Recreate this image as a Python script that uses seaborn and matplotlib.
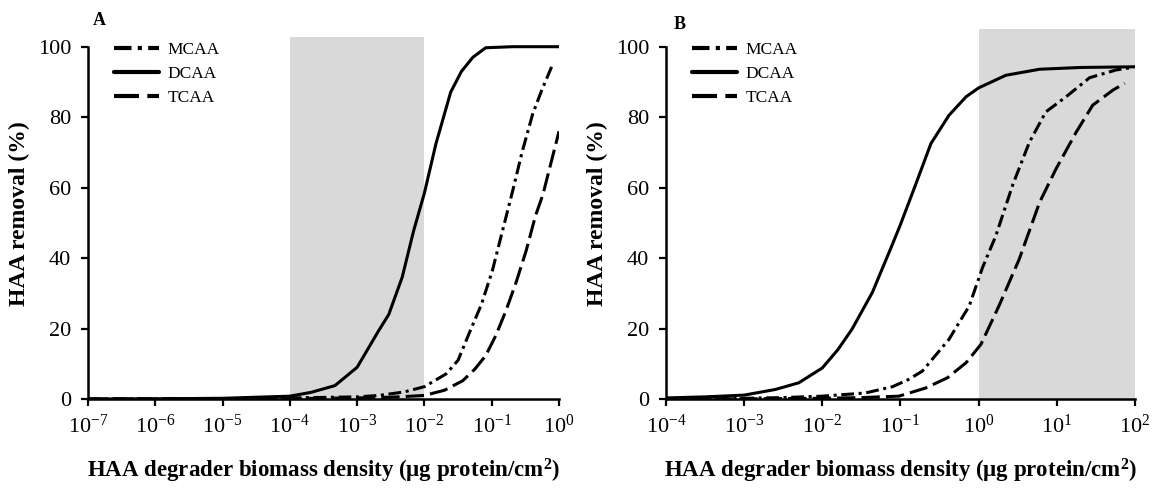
import numpy as np
import pandas as pd
import matplotlib
matplotlib.use("Agg")
import matplotlib.pyplot as plt
import seaborn as sns
from matplotlib.lines import Line2D

# ---------------- data (log10 of biomass density, % removal) ----------------
series_names = ["MCAA", "DCAA", "TCAA"]

# Panel A
a_mcaa_logx = [-7, -5, -4, -3, -2.68, -2.3, -2.0, -1.68, -1.5, -1.33, -1.15, -0.99, -0.85, -0.69, -0.55, -0.39, -0.25, -0.09]
a_mcaa_y = [0, 0.1, 0.3, 0.6, 1.0, 2.0, 3.5, 7.1, 11, 18.9, 27, 36.5, 47, 59, 70, 81, 88, 95.2]
a_dcaa_logx = [-7, -6, -5, -4.5, -4, -3.68, -3.33, -3, -2.68, -2.53, -2.33, -2.16, -2.0, -1.83, -1.61, -1.45, -1.28, -1.09, -0.69, 0]
a_dcaa_y = [0, 0.05, 0.2, 0.5, 0.8, 1.9, 3.8, 9, 19.4, 24, 34.6, 47.8, 58.5, 72.4, 87.1, 93, 97, 99.7, 100, 100]
a_tcaa_logx = [-7, -5, -4, -3, -2.5, -2.0, -1.7, -1.43, -1.25, -1.09, -0.94, -0.79, -0.64, -0.49, -0.35, -0.24, -0.12, 0]
a_tcaa_y = [0, 0.05, 0.1, 0.3, 0.5, 1.0, 2.5, 5.2, 8.5, 12.3, 18, 25, 33, 42, 52, 58, 67, 76]

# Panel B
b_mcaa_logx = [-4, -3, -2.5, -2, -1.45, -1.1, -0.9, -0.72, -0.38, -0.12, 0.05, 0.22, 0.44, 0.65, 0.86, 1.12, 1.42, 1.76, 1.94]
b_mcaa_y = [0, 0.2, 0.4, 0.8, 1.7, 3.5, 5.5, 7.9, 16.9, 26.4, 37.3, 46.3, 61, 72.9, 81.5, 85.8, 91.2, 93.4, 94]
b_dcaa_logx = [-4, -3.5, -3, -2.6, -2.3, -2, -1.8, -1.62, -1.36, -1.11, -1.0, -0.81, -0.61, -0.38, -0.16, 0, 0.35, 0.78, 1.3, 2]
b_dcaa_y = [0.3, 0.6, 1.1, 2.7, 4.6, 8.8, 14, 19.8, 30.2, 43.5, 49.5, 60.6, 72.5, 80.5, 85.8, 88.3, 91.9, 93.6, 94.1, 94.3]
b_tcaa_logx = [-4, -3, -2, -1.5, -1.02, -0.68, -0.4, -0.16, 0.03, 0.26, 0.52, 0.78, 0.99, 1.25, 1.46, 1.72, 1.87]
b_tcaa_y = [0, 0.05, 0.2, 0.4, 0.8, 3.1, 6, 10.3, 15.5, 26.4, 39.7, 55.8, 65.3, 75.8, 83.4, 87.7, 89.6]

# Shaded ranges
a_shade = [1e-4, 1e-2]
b_shade = [1e0, 1e2]

# Tick exponents
a_tick_exp = [-7, -6, -5, -4, -3, -2, -1, 0]
b_tick_exp = [-4, -3, -2, -1, 0, 1, 2]
y_ticks = [0, 20, 40, 60, 80, 100]

panel_labels = ["A", "B"]
xlabel = "HAA degrader biomass density (\u03bcg protein/cm$^{\\mathbf{2}}$)"
ylabel = "HAA removal (%)"

# ---------------- styling ----------------
sns.set_style("ticks")
plt.rcParams["font.family"] = ["Liberation Serif", "DejaVu Serif"]
plt.rcParams["mathtext.fontset"] = "custom"
plt.rcParams["mathtext.rm"] = "Liberation Serif"
plt.rcParams["mathtext.it"] = "Liberation Serif:italic"
plt.rcParams["mathtext.bf"] = "Liberation Serif:bold"
plt.rcParams["text.color"] = "black"
plt.rcParams["axes.labelcolor"] = "black"
plt.rcParams["xtick.color"] = "black"
plt.rcParams["ytick.color"] = "black"
plt.rcParams["xtick.labelcolor"] = "black"
plt.rcParams["ytick.labelcolor"] = "black"

LW = 2.2
dash_styles = {
    "MCAA": (0, (4.2, 1.5, 1.0, 1.5)),
    "DCAA": "-",
    "TCAA": (0, (6.0, 2.0)),
}

fig = plt.figure(figsize=(11.62, 4.93), dpi=100)
axA = fig.add_axes([0.0757, 0.1907, 0.4054, 0.7503])
axB = fig.add_axes([0.5731, 0.1907, 0.4036, 0.7503])

panels = [
    (axA, [(a_mcaa_logx, a_mcaa_y), (a_dcaa_logx, a_dcaa_y), (a_tcaa_logx, a_tcaa_y)], a_shade, 102.8, a_tick_exp, (0.011, 1.0)),
    (axB, [(b_mcaa_logx, b_mcaa_y), (b_dcaa_logx, b_dcaa_y), (b_tcaa_logx, b_tcaa_y)], b_shade, 105.0, b_tick_exp, (0.017, 0.99)),
]

YTOP = 105.0
for i, (ax, series, shade, shade_top, tick_exp, lab_pos) in enumerate(panels):
    ax.axvspan(shade[0], shade[1], ymin=0, ymax=shade_top / YTOP, color="#d9d9d9", lw=0, zorder=0)
    for name, (lx, yy) in zip(series_names, series):
        df = pd.DataFrame({"x": 10.0 ** np.array(lx, dtype=float), "y": yy})
        sns.lineplot(data=df, x="x", y="y", ax=ax, color="black", lw=LW,
                     linestyle=dash_styles[name], estimator=None, legend=False,
                     zorder=3)
    ax.set_xscale("log")
    ax.set_xlim(10.0 ** tick_exp[0], 10.0 ** tick_exp[-1])
    ax.set_ylim(0, YTOP)
    ax.set_xticks([10.0 ** e for e in tick_exp])
    ax.set_xticklabels(["10$^{%d}$" % e for e in tick_exp])
    ax.xaxis.set_minor_locator(matplotlib.ticker.NullLocator())
    ax.set_yticks(y_ticks)
    ax.set_yticklabels([str(v) for v in y_ticks])
    ax.tick_params(axis="both", which="major", labelsize=16, direction="out",
                   length=5, width=1.6, color="black", labelcolor="black")
    ax.tick_params(axis="y", pad=7)
    ax.tick_params(axis="x", pad=6)
    for s in ["top", "right"]:
        ax.spines[s].set_visible(False)
    for s in ["left", "bottom"]:
        ax.spines[s].set_linewidth(1.8)
        ax.spines[s].set_color("black")
    ax.spines["left"].set_bounds(0, 100)
    ax.set_xlabel(xlabel, fontsize=16.5, fontweight="bold", labelpad=14, color="black")
    ax.set_ylabel(ylabel, fontsize=17, fontweight="bold", labelpad=6, color="black")
    ax.set_facecolor("white")
    ax.text(lab_pos[0], lab_pos[1], panel_labels[i], transform=ax.transAxes, fontsize=13,
            fontweight="bold", ha="left", va="bottom", color="black")

    handles = [Line2D([], [], color="black", lw=3, linestyle=dash_styles[n]) for n in series_names]
    leg = ax.legend(handles, series_names, loc="upper left", bbox_to_anchor=(0.04, 0.985),
                    frameon=False, fontsize=12.5, handlelength=2.6, handletextpad=0.5,
                    labelspacing=0.45, borderaxespad=0)
    for t in leg.get_texts():
        t.set_color("black")

fig.savefig("out.png", dpi=100, facecolor="white")
